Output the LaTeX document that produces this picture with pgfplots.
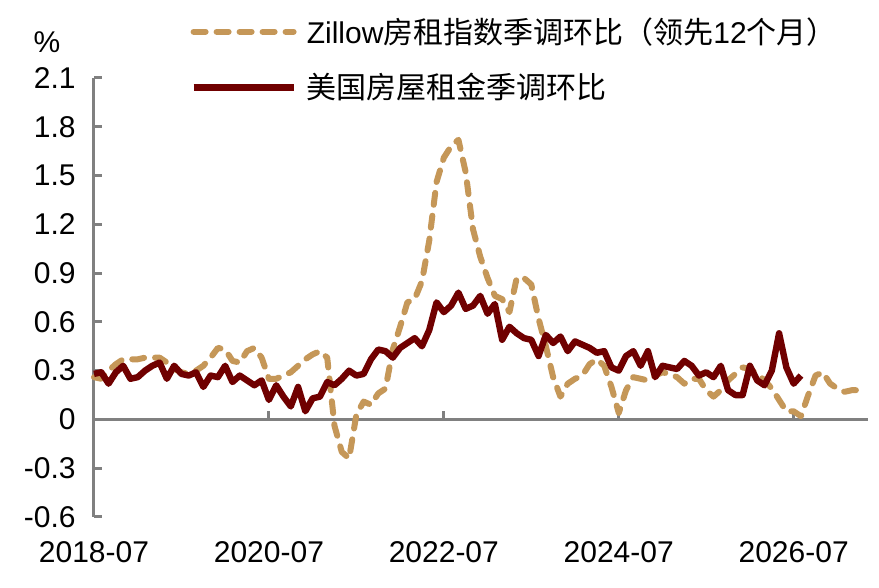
\documentclass[border=0pt]{standalone}
\usepackage{pgfplots}
\pgfplotsset{compat=1.18}
\usepackage{fontspec}
\setmainfont{Liberation Sans}
\newfontfamily\cjk{Noto Sans CJK SC}
\definecolor{zcol}{RGB}{197,151,88}
\definecolor{rcol}{RGB}{112,0,0}
\definecolor{axgray}{RGB}{128,128,128}
\begin{document}
\begin{tikzpicture}
\path[use as bounding box] (-47pt,-35.5pt) rectangle (392.5pt,258.5pt);
\begin{axis}[
  at={(0,0)}, anchor=south west,
  scale only axis, width=387pt, height=219.5pt,
  xmin=0, xmax=106.2, ymin=-0.6, ymax=2.1,
  axis x line*=middle, axis y line*=left,
  hide obscured x ticks=false, hide obscured y ticks=false,
  axis line style={draw=axgray, line width=1.5pt},
  xtick={0,24,48,72,96},
  xticklabels={2018-07,2020-07,2022-07,2024-07,2026-07},
  ytick={-0.6,-0.3,0,0.3,0.6,0.9,1.2,1.5,1.8,2.1},
  yticklabels={-0.6,-0.3,0,0.3,0.6,0.9,1.2,1.5,1.8,2.1},
  tick style={draw=axgray, line width=1.5pt},
  major tick length=4pt,
  tick align=inside,
  xticklabel style={anchor=north, inner sep=0pt, yshift=-61pt},
  yticklabel style={anchor=east, inner sep=0pt, xshift=-9pt},
  tick label style={font=\fontsize{15}{18}\selectfont},
  clip=false,
  legend style={at={(rel axis cs:0,1)}, anchor=west, xshift=48pt, yshift=9.25pt,
    draw=none, fill=none, inner sep=0pt, row sep=13.5pt, column sep=5pt,
    font=\fontsize{15}{18}\selectfont, nodes={inner sep=0pt}},
  legend cell align=left,
  legend image code/.code={\draw[#1] (0pt,0pt) -- (50pt,0pt);},
]
\addplot[zcol, mark=none, line width=3pt, dash pattern=on 6pt off 5.5pt, line cap=round, line join=round] coordinates {
(0,0.26)(1,0.25)(2,0.30)(3,0.34)(4,0.37)(5,0.37)(6,0.37)(7,0.38)(8,0.38)(9,0.38)
(10,0.35)(11,0.31)(12,0.29)(13,0.28)(14,0.30)(15,0.33)(16,0.38)(17,0.44)(18,0.43)(19,0.36)
(20,0.35)(21,0.42)(22,0.44)(23,0.38)(24,0.25)(25,0.25)(26,0.27)(27,0.29)(28,0.33)(29,0.37)
(30,0.40)(31,0.42)(32,0.38)(33,-0.04)(34,-0.20)(35,-0.24)(36,0.03)(37,0.11)(38,0.09)(39,0.16)
(40,0.19)(41,0.43)(42,0.57)(43,0.72)(44,0.74)(45,0.85)(46,1.10)(47,1.46)(48,1.61)(49,1.68)
(50,1.72)(51,1.52)(52,1.17)(53,1.00)(54,0.87)(55,0.76)(56,0.74)(57,0.66)(58,0.87)(59,0.87)
(60,0.83)(61,0.62)(62,0.45)(63,0.26)(64,0.14)(65,0.22)(66,0.25)(67,0.27)(68,0.34)(69,0.37)
(70,0.33)(71,0.20)(72,0.04)(73,0.18)(74,0.26)(75,0.25)(76,0.24)(77,0.27)(78,0.29)(79,0.28)
(80,0.26)(81,0.22)(82,0.25)(83,0.25)(84,0.18)(85,0.14)(86,0.18)(87,0.24)(88,0.28)(89,0.32)
(90,0.31)(91,0.28)(92,0.24)(93,0.19)(94,0.12)(95,0.05)(96,0.05)(97,0.02)(98,0.15)(99,0.27)
(100,0.29)(101,0.22)(102,0.19)(103,0.17)(104,0.18)(105,0.18)
};
\addlegendentry{Zillow{\cjk 房租指数季调环比（领先}12{\cjk 个月）}}
\addplot[rcol, mark=none, line width=3.2pt, line join=round] coordinates {
(0,0.28)(1,0.29)(2,0.22)(3,0.29)(4,0.33)(5,0.25)(6,0.26)(7,0.30)(8,0.33)(9,0.35)
(10,0.25)(11,0.33)(12,0.28)(13,0.27)(14,0.29)(15,0.20)(16,0.27)(17,0.26)(18,0.33)(19,0.23)
(20,0.27)(21,0.24)(22,0.21)(23,0.24)(24,0.12)(25,0.21)(26,0.14)(27,0.08)(28,0.20)(29,0.05)
(30,0.13)(31,0.14)(32,0.23)(33,0.21)(34,0.25)(35,0.30)(36,0.27)(37,0.28)(38,0.37)(39,0.43)
(40,0.42)(41,0.38)(42,0.44)(43,0.47)(44,0.50)(45,0.45)(46,0.55)(47,0.72)(48,0.66)(49,0.70)
(50,0.78)(51,0.68)(52,0.70)(53,0.76)(54,0.65)(55,0.71)(56,0.49)(57,0.57)(58,0.53)(59,0.50)
(60,0.49)(61,0.39)(62,0.52)(63,0.47)(64,0.51)(65,0.42)(66,0.48)(67,0.46)(68,0.44)(69,0.41)
(70,0.42)(71,0.32)(72,0.30)(73,0.39)(74,0.42)(75,0.33)(76,0.42)(77,0.26)(78,0.33)(79,0.32)
(80,0.31)(81,0.36)(82,0.33)(83,0.27)(84,0.29)(85,0.26)(86,0.33)(87,0.18)(88,0.15)(89,0.15)
(90,0.33)(91,0.24)(92,0.21)(93,0.30)(94,0.53)(95,0.32)(96,0.22)(97,0.27)
};
\addlegendentry{{\cjk 美国房屋租金季调环比}}
\node[font=\fontsize{15}{18}\selectfont] at (rel axis cs:0,1) [xshift=-23.5pt, yshift=18pt] {\%};
\end{axis}
\end{tikzpicture}
\end{document}
